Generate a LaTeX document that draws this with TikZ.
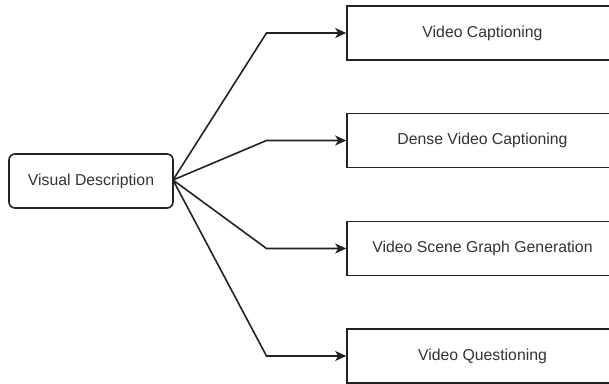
\documentclass[tikz,border=0pt]{standalone}
\usepackage{fontspec}
\setmainfont{Liberation Sans}
\usetikzlibrary{arrows.meta}
\definecolor{ink}{HTML}{222222}
\definecolor{txt}{HTML}{333333}
\begin{document}
\begin{tikzpicture}[x=1pt,y=-1pt,
  box/.style={draw=ink, line width=1.6pt, fill=white, minimum height=54pt,
    inner sep=0pt, font=\fontsize{15.8}{18}\selectfont, text=txt},
  taskbox/.style={box, minimum width=271pt},
  rootbox/.style={box, rounded corners=6pt, minimum width=164pt},
  link/.style={draw=ink, line width=1.6pt, -{Stealth[length=11pt,width=10pt,inset=3pt]}}]
  \useasboundingbox (0,0) rectangle (609,383);
  \clip (0,0) rectangle (609,383);
  % root node
  \node[rootbox] (root) at (91,181) {Visual Description};
  % task nodes
  \node[taskbox] (cap)   at (482.5,33)    {Video Captioning};
  \node[taskbox] (dense) at (482.5,140.5) {Dense Video Captioning};
  \node[taskbox] (sgg)   at (482.5,248.5) {Video Scene Graph Generation};
  \node[taskbox] (vq)    at (482.5,356)   {Video Questioning};
  % bend points
  \coordinate (src) at (173,180);
  \coordinate (b1) at (266.5,33);
  \coordinate (b2) at (266.5,140.5);
  \coordinate (b3) at (266.5,248.5);
  \coordinate (b4) at (266.5,356);
  % connectors
  \draw[link] (src) -- (b1) -- (cap.west);
  \draw[link] (src) -- (b2) -- (dense.west);
  \draw[link] (src) -- (b3) -- (sgg.west);
  \draw[link] (src) -- (b4) -- (vq.west);
\end{tikzpicture}
\end{document}
